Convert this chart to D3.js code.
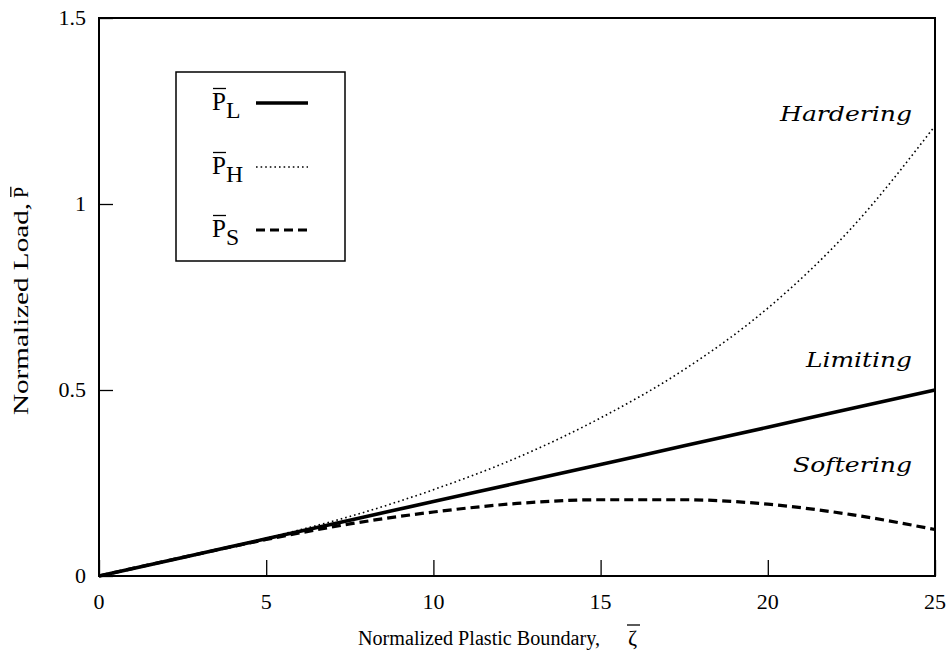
<!DOCTYPE html>
<html>
<head>
<meta charset="utf-8">
<script src="https://cdn.jsdelivr.net/npm/d3@7"></script>
<style>
  html, body { margin: 0; padding: 0; background: #fff; }
  svg { display: block; }
</style>
</head>
<body>
<svg id="chart" width="951" height="664"></svg>
<script>
// Normalized plastic boundary positions
const zeta = [0, 2.5, 5, 7.5, 10, 12.5, 15, 17.5, 20, 22.5, 25];
// Normalized load for the three material models
const loadLimiting  = [0, 0.05, 0.10, 0.15, 0.20, 0.25, 0.30, 0.35, 0.40, 0.45, 0.50];
const loadHardening = [0, 0.05, 0.102, 0.16, 0.232, 0.318, 0.425, 0.555, 0.72, 0.935, 1.21];
const loadSoftening = [0, 0.05, 0.098, 0.14, 0.172, 0.195, 0.205, 0.205, 0.193, 0.165, 0.125];
// Axis ticks
const xTicks = [0, 5, 10, 15, 20, 25];
const yTicks = [0, 0.5, 1, 1.5];
const yTickLabels = ["0", "0.5", "1", "1.5"];
// Legend entries and curve annotations
const legendKeys = ["L", "H", "S"];
const curveNames = ["Hardering", "Limiting", "Softering"];

const SERIF = "Liberation Serif";
const SLAB = "DejaVu Serif";

const svg = d3.select("#chart");
const plotLeft = 99, plotRight = 935, plotTop = 18, plotBottom = 576;

const x = d3.scaleLinear().domain([0, 25]).range([plotLeft, plotRight]);
const y = d3.scaleLinear().domain([0, 1.5]).range([plotBottom, plotTop]);

// Inward ticks on the bottom and left edges
const xAxis = d3.axisTop(x).tickValues(xTicks).tickSize(16).tickFormat("");
const yAxis = d3.axisRight(y).tickValues(yTicks).tickSize(14).tickFormat("");
svg.append("g").attr("transform", `translate(0,${plotBottom})`).call(xAxis)
  .call(g => g.select(".domain").remove())
  .selectAll("line").attr("stroke", "#000").attr("stroke-width", 1.3);
svg.append("g").attr("transform", `translate(${plotLeft},0)`).call(yAxis)
  .call(g => g.select(".domain").remove())
  .selectAll("line").attr("stroke", "#000").attr("stroke-width", 1.3);

// Tick labels
svg.append("g").selectAll("text").data(xTicks).join("text")
  .attr("font-family", SERIF)
  .attr("x", d => x(d)).attr("y", 609)
  .attr("text-anchor", "middle").attr("font-size", 22)
  .text(d => d);
svg.append("g").selectAll("text").data(yTicks).join("text")
  .attr("font-family", SERIF)
  .attr("x", 86).attr("y", d => y(d) + 7)
  .attr("text-anchor", "end").attr("font-size", 22)
  .text((d, i) => yTickLabels[i]);

// Plot frame
svg.append("rect")
  .attr("x", plotLeft).attr("y", plotTop)
  .attr("width", plotRight - plotLeft).attr("height", plotBottom - plotTop)
  .attr("fill", "none").attr("stroke", "#000").attr("stroke-width", 2);

// Curves
const line = d3.line().x(d => x(d[0])).y(d => y(d[1])).curve(d3.curveMonotoneX);
const series = [
  { values: loadLimiting,  width: 3.6, dash: null },
  { values: loadHardening, width: 1.6, dash: "1.6 3" },
  { values: loadSoftening, width: 3.2, dash: "9 5" }
];
series.forEach(s => {
  svg.append("path")
    .datum(zeta.map((z, i) => [z, s.values[i]]))
    .attr("d", line)
    .attr("fill", "none").attr("stroke", "#000")
    .attr("stroke-width", s.width)
    .attr("stroke-dasharray", s.dash);
});

// Curve annotations, right-aligned inside the frame
const noteY = [121, 367, 472];
const noteW = [132, 106, 119];
svg.append("g").selectAll("text").data(curveNames).join("text")
  .attr("font-family", SLAB)
  .attr("x", (d, i) => 912 - noteW[i]).attr("y", (d, i) => noteY[i])
  .attr("font-size", 21)
  .attr("font-style", "italic")
  .attr("textLength", (d, i) => noteW[i])
  .attr("lengthAdjust", "spacingAndGlyphs")
  .text(d => d);

// Symbol "P" with an overbar and optional subscript
function barredP(g, px, py, sub, size) {
  const t = g.append("text").attr("font-family", SERIF)
    .attr("x", px).attr("y", py).attr("font-size", size);
  t.append("tspan").text("P");
  if (sub) t.append("tspan").attr("dy", size * 0.3).attr("font-size", size * 0.95).text(sub);
  const pw = size * 0.56;
  g.append("line")
    .attr("x1", px + 1).attr("x2", px + pw)
    .attr("y1", py - size * 0.86).attr("y2", py - size * 0.86)
    .attr("stroke", "#000").attr("stroke-width", 1.3);
  return t;
}

// Legend
const legend = svg.append("g");
legend.append("rect")
  .attr("x", 176).attr("y", 72).attr("width", 169).attr("height", 189)
  .attr("fill", "#fff").attr("stroke", "#000").attr("stroke-width", 1.5);
const legendY = [103, 167, 230];
legendKeys.forEach((k, i) => {
  barredP(legend, 212, legendY[i] + 7, k, 25);
  legend.append("line")
    .attr("x1", 256).attr("x2", 308)
    .attr("y1", legendY[i]).attr("y2", legendY[i])
    .attr("stroke", "#000")
    .attr("stroke-width", series[i].width)
    .attr("stroke-dasharray", series[i].dash);
});

// Axis titles
const xt = svg.append("g");
xt.append("text").attr("font-family", SERIF)
  .attr("x", 358).attr("y", 645)
  .attr("font-size", 20)
  .attr("textLength", 242).attr("lengthAdjust", "spacingAndGlyphs")
  .text("Normalized Plastic Boundary,");
xt.append("text").attr("font-family", SERIF)
  .attr("x", 628).attr("y", 645)
  .attr("font-size", 22).text("ζ");
xt.append("line")
  .attr("x1", 627).attr("x2", 640)
  .attr("y1", 625).attr("y2", 625)
  .attr("stroke", "#000").attr("stroke-width", 1.3);

const yt = svg.append("g").attr("transform", "translate(28,0) rotate(-90)");
yt.append("text").attr("font-family", SERIF)
  .attr("x", -415).attr("y", 0)
  .attr("font-size", 20)
  .attr("textLength", 212).attr("lengthAdjust", "spacingAndGlyphs")
  .text("Normalized Load,");
barredP(yt, -198, 0, null, 20);
</script>
</body>
</html>
